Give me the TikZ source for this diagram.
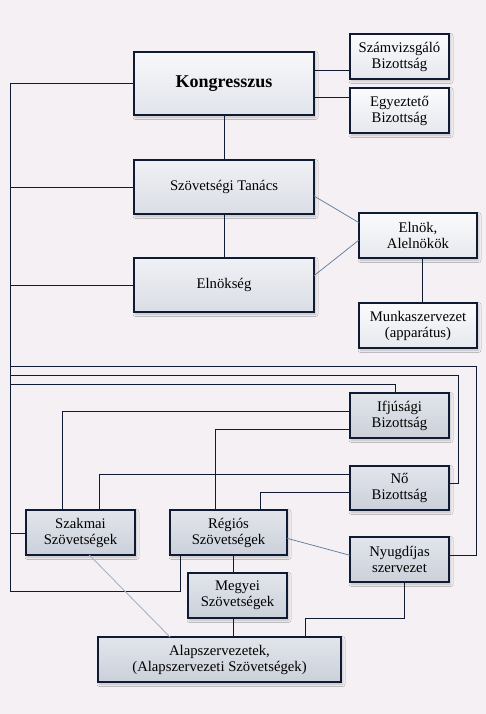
\documentclass[tikz,border=0pt]{standalone}
\usepackage{fontspec}
\setmainfont{Liberation Serif}
\usetikzlibrary{shadows.blur}
\definecolor{bg}{HTML}{F4F0F4}
\definecolor{edge}{HTML}{0F1B33}
\definecolor{diag}{HTML}{5B7899}
\definecolor{diaglight}{HTML}{A4B3C8}
\definecolor{paleT}{HTML}{F8F8FB}
\definecolor{paleB}{HTML}{E1E4EB}
\definecolor{whiteT}{HTML}{FBFBFD}
\definecolor{whiteB}{HTML}{E6E8EE}
\definecolor{midT}{HTML}{F0F1F5}
\definecolor{midB}{HTML}{DADDE5}
\definecolor{darkT}{HTML}{E2E5EB}
\definecolor{darkB}{HTML}{CBD0DA}
\begin{document}
\begin{tikzpicture}[x=1pt,y=-1pt,
  box/.style={draw=edge, line width=1.1pt, inner sep=0pt, outer sep=0pt, anchor=north west,
    align=center, font=\fontsize{14.7}{16}\selectfont,
    blur shadow={shadow xshift=1.5pt, shadow yshift=-2pt, shadow blur radius=2.5pt, shadow opacity=22}},
  pale/.style={box, top color=paleT, bottom color=paleB},
  whitebox/.style={box, top color=whiteT, bottom color=whiteB},
  mid/.style={box, top color=midT, bottom color=midB},
  dark/.style={box, top color=darkT, bottom color=darkB},
  conn/.style={draw=edge, line width=0.9pt},
  thin/.style={draw=diag, line width=0.7pt},
  faint/.style={draw=diaglight, line width=0.9pt}]
\fill[bg] (0,0) rectangle (486,714);
\useasboundingbox (0,0) rectangle (486,714);

\coordinate (busTop) at (10.7,83.5);
\coordinate (busBot) at (10.7,591);

% nodes
\node[pale, minimum width=180pt, minimum height=63pt, font=\fontsize{18}{20}\selectfont\bfseries] (kong) at (134,52) {Kongresszus};
\node[whitebox, minimum width=99pt, minimum height=45pt] (szam) at (350,34) {Számvizsgáló\\Bizottság};
\node[whitebox, minimum width=99pt, minimum height=45pt] (egy) at (350,88) {Egyeztető\\Bizottság};
\node[mid, minimum width=180pt, minimum height=54pt] (tan) at (134,160) {Szövetségi Tanács};
\node[whitebox, minimum width=118pt, minimum height=45pt] (eln) at (359,213) {Elnök,\\Alelnökök};
\node[mid, minimum width=180pt, minimum height=54pt] (elk) at (134,258) {Elnökség};
\node[whitebox, minimum width=118pt, minimum height=45pt] (munka) at (359,303) {Munkaszervezet\\(apparátus)};
\node[dark, minimum width=99pt, minimum height=45pt] (ifj) at (350,393) {Ifjúsági\\Bizottság};
\node[dark, minimum width=99pt, minimum height=44pt] (no) at (350,466) {Nő\\Bizottság};
\node[dark, minimum width=109pt, minimum height=45pt] (szak) at (26,510) {Szakmai\\Szövetségek};
\node[dark, minimum width=117pt, minimum height=45pt] (reg) at (170,510) {Régiós\\Szövetségek};
\node[dark, minimum width=99pt, minimum height=45pt] (nyug) at (350,537) {Nyugdíjas\\szervezet};
\node[dark, minimum width=99pt, minimum height=45pt] (megy) at (188,573) {Megyei\\Szövetségek};
\node[dark, minimum width=243pt, minimum height=45pt] (alap) at (98,637) {Alapszervezetek,\\(Alapszervezeti Szövetségek)};

% left bus
\draw[conn] (kong.west) -- (busTop) -- (busBot) -- (180.3,591 |- busBot) -- (reg.south -| 180.3,0);
\draw[conn] (tan.west) -- (tan.west -| busTop);
\draw[conn] (elk.west) -- (elk.west -| busTop);
\draw[conn] (szak.west |- 0,533) -- (busTop |- 0,533);

% top
\draw[conn] (kong.east |- 0,70.3) -- (szam.west |- 0,70.3);
\draw[conn] (kong.east |- 0,97.3) -- (egy.west |- 0,97.3);
\draw[conn] (kong.south) -- (tan.north);
\draw[conn] (tan.south) -- (elk.north);
\draw[thin] (tan.east |- 0,196) -- (eln.west |- 0,222.7);
\draw[thin] (elk.east |- 0,275.7) -- (eln.west |- 0,240);
\draw[conn] (eln.south -| 422.7,0) -- (munka.north -| 422.7,0);

% long horizontal loops
\draw[conn] (busTop |- 0,366.3) -- (476.7,366.3) -- (476.7,555.3) -- (nyug.east |- 0,555.3);
\draw[conn] (busTop |- 0,375.3) -- (458.3,375.3) -- (458.3,483) -- (no.east |- 0,483);
\draw[conn] (busTop |- 0,384.3) -- (395.7,384.3) -- (ifj.north -| 395.7,0);

% committees to federations
\draw[conn] (ifj.west |- 0,411.3) -- (62.7,411.3) -- (szak.north -| 62.7,0);
\draw[conn] (ifj.west |- 0,429.3) -- (215.3,429.3) -- (reg.north -| 215.3,0);
\draw[conn] (no.west |- 0,474.3) -- (99.3,474.3) -- (szak.north -| 99.3,0);
\draw[conn] (no.west |- 0,492.3) -- (260.3,492.3) -- (reg.north -| 260.3,0);

% lower
\draw[thin] (reg.east |- 0,538.3) -- (nyug.west |- 0,555.3);
\draw[conn] (reg.south -| 233.3,0) -- (megy.north -| 233.3,0);
\draw[conn] (megy.south -| 233.3,0) -- (alap.north -| 233.3,0);
\draw[conn] (nyug.south -| 404.3,0) -- (404.3,618) -- (305.3,618) -- (alap.north -| 305.3,0);
\draw[faint] (szak.south -| 89.3,0) -- (alap.north -| 170,0);
\end{tikzpicture}
\end{document}
